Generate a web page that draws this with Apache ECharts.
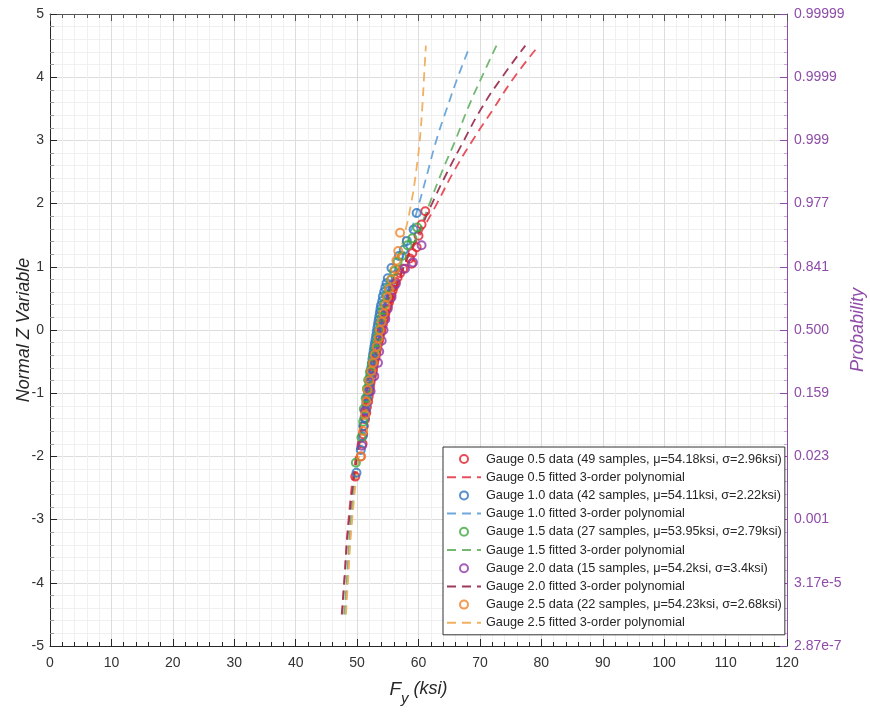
<!DOCTYPE html>
<html><head><meta charset="utf-8">
<script src="https://cdn.jsdelivr.net/npm/echarts@6/dist/echarts.min.js"></script>
<style>html,body{margin:0;padding:0;background:#fff}#c{width:870px;height:714px}</style>
</head><body><div id="c"></div>
<script>
// ---- tick labels ----
const probLabels = ['2.87e-7','3.17e-5','0.001','0.023','0.159','0.500','0.841','0.977','0.999','0.9999','0.99999'];

// ---- data (Fy ksi, Z) ----
const g05z = [-2.32,-2.0,-1.8,-1.65,-1.52,-1.41,-1.31,-1.22,-1.13,-1.05,-0.97,-0.9,-0.83,-0.76,-0.69,-0.63,-0.56,-0.5,-0.44,-0.38,-0.32,-0.26,-0.2,-0.15,-0.09,-0.03,0.03,0.09,0.15,0.2,0.26,0.32,0.38,0.44,0.5,0.56,0.63,0.69,0.76,0.83,0.9,0.97,1.05,1.13,1.22,1.31,1.49,1.67,1.88];
const g05x = [49.7,50.6,50.9,51.0,51.1,51.3,51.5,51.6,51.8,51.9,52.0,52.1,52.2,52.4,52.5,52.6,52.7,52.8,53.0,53.1,53.2,53.3,53.5,53.6,53.7,53.9,54.0,54.2,54.3,54.5,54.6,54.8,55.0,55.2,55.4,55.6,55.8,56.0,56.3,56.6,57.0,57.5,58.9,58.6,59.0,59.7,60.0,60.5,61.1];
const g10z = [-2.26,-1.9,-1.68,-1.52,-1.39,-1.27,-1.17,-1.07,-0.98,-0.9,-0.82,-0.74,-0.67,-0.6,-0.53,-0.46,-0.39,-0.33,-0.27,-0.21,-0.15,-0.09,-0.03,0.03,0.09,0.15,0.21,0.27,0.33,0.39,0.46,0.53,0.6,0.67,0.74,0.82,0.98,1.17,1.27,1.41,1.59,1.85];
const g10x = [49.9,50.6,50.9,51.0,51.2,51.4,51.5,51.6,51.8,51.9,52.0,52.1,52.2,52.3,52.4,52.5,52.6,52.7,52.8,52.9,53.0,53.1,53.2,53.3,53.4,53.5,53.6,53.7,53.8,53.9,54.1,54.2,54.4,54.6,54.8,55.0,55.6,56.8,57.6,58.1,59.2,59.7];
const g15z = [-2.1,-1.7,-1.45,-1.25,-1.08,-0.93,-0.79,-0.66,-0.54,-0.42,-0.31,-0.2,-0.1,0,0.1,0.2,0.31,0.42,0.54,0.66,0.79,0.93,1.08,1.17,1.34,1.45,1.62];
const g15x = [49.8,50.7,51.0,51.1,51.4,51.6,51.8,52.1,52.4,52.7,53.0,53.2,53.4,53.6,53.8,54.0,54.2,54.5,54.8,55.1,55.5,56.0,56.6,57.3,58.2,59.0,59.8];
const g20z = [-1.83,-1.28,-0.97,-0.73,-0.52,-0.34,-0.17,0,0.17,0.34,0.52,0.73,0.97,1.07,1.34];
const g20x = [50.8,51.3,52.2,52.8,53.4,53.6,54.0,54.3,54.6,55.0,55.6,56.3,57.8,59.1,60.5];
const g25z = [-2.0,-1.6,-1.34,-1.13,-0.95,-0.8,-0.65,-0.52,-0.39,-0.26,-0.13,0,0.13,0.26,0.39,0.52,0.65,0.8,0.96,1.1,1.25,1.54];
const g25x = [50.6,51.0,51.3,51.5,51.7,52.0,52.3,52.6,52.9,53.2,53.5,53.7,54.0,54.3,54.6,54.9,55.2,55.6,56.2,56.4,56.7,57.0];

// ---- fitted curves (Z levels and Fy) ----
const fitZ = [-4.5,-4,-3,-2,-1,0,1,1.5,2,2.5,3,3.5,4,4.5];
const fit05x = [47.6,47.9,48.6,49.8,51.6,54.0,57.6,60.2,63.0,65.7,68.8,72.2,75.6,79.6];
const fit10x = [48.1,48.4,49.1,50.2,51.8,54.0,57.0,58.6,60.1,61.5,62.9,64.6,66.4,68.4];
const fit15x = [47.9,48.3,49.0,50.1,51.7,54.0,57.6,59.8,61.8,63.8,66.0,68.0,70.3,72.7];
const fit20x = [47.5,47.9,48.7,50.0,51.8,54.2,57.6,59.9,62.2,64.7,67.4,70.2,73.6,77.4];
const fit25x = [48.2,48.5,49.2,50.3,51.7,53.9,56.4,57.7,58.8,59.6,60.2,60.6,60.9,61.2];

const names = [
  'Gauge 0.5 data (49 samples, μ=54.18ksi, σ=2.96ksi)','Gauge 0.5 fitted 3-order polynomial',
  'Gauge 1.0 data (42 samples, μ=54.11ksi, σ=2.22ksi)','Gauge 1.0 fitted 3-order polynomial',
  'Gauge 1.5 data (27 samples, μ=53.95ksi, σ=2.79ksi)','Gauge 1.5 fitted 3-order polynomial',
  'Gauge 2.0 data (15 samples, μ=54.2ksi, σ=3.4ksi)','Gauge 2.0 fitted 3-order polynomial',
  'Gauge 2.5 data (22 samples, μ=54.23ksi, σ=2.68ksi)','Gauge 2.5 fitted 3-order polynomial'
];
const dataColors = ['#E0202C','#2E75C0','#3FA83F','#8E3AA6','#F0822A'];
const fitColors  = ['#E8505C','#6FA8DA','#74B874','#A03A5A','#F2B062'];

const zip = (xs, zs) => xs.map((v, i) => [v, zs[i]]);
const sets = [[g05x,g05z,fit05x],[g10x,g10z,fit10x],[g15x,g15z,fit15x],[g20x,g20z,fit20x],[g25x,g25z,fit25x]];
const series = [];
sets.forEach((s, k) => {
  series.push({
    name: names[2*k], type: 'scatter', data: zip(s[0], s[1]),
    symbol: 'circle', symbolSize: 8,
    itemStyle: {color: 'rgba(255,255,255,0)', borderColor: dataColors[k], borderWidth: 2},
    emphasis: {disabled: true}, z: 3
  });
  series.push({
    name: names[2*k+1], type: 'line', data: zip(s[2], fitZ),
    showSymbol: false, symbol: 'none', smooth: true,
    lineStyle: {color: fitColors[k], width: 1.8, type: [9, 6]},
    itemStyle: {color: fitColors[k]},
    emphasis: {disabled: true}, z: 2
  });
});

const font = 'Liberation Sans, Arial, sans-serif';
const dark = '#262626';
const purple = '#8E4CA8';

const legendData = names.map((n, i) => i % 2 === 1
  ? {name: n, itemStyle: {opacity: 0}}
  : {name: n});

const chart = echarts.init(document.getElementById('c'), null, {renderer: 'canvas'});
chart.setOption({
  animation: false,
  backgroundColor: '#fff',
  grid: {left: 50, right: 83, top: 14, bottom: 68, outerBoundsMode: 'none', containLabel: false},
  legend: {
    orient: 'vertical', left: 443, top: 447,
    padding: [5.5, 3, 5.5, 3],
    itemWidth: 34, itemHeight: 8, itemGap: 5.2,
    backgroundColor: '#fff', borderColor: '#333', borderWidth: 1,
    textStyle: {fontFamily: font, fontSize: 12.7, color: dark},
    data: legendData,
    selectedMode: false
  },
  xAxis: [{
    type: 'value', min: 0, max: 120, interval: 10, position: 'bottom',
    axisLine: {show: true, onZero: false, lineStyle: {color: dark, width: 1}},
    name: '{a|F}{b|y}{c| (ksi)}', nameLocation: 'middle', nameGap: 34, nameMoveOverlap: false,
    nameTextStyle: {color: dark, fontFamily: font, rich: {
      a: {fontSize: 19, fontStyle: 'italic', color: dark, fontFamily: font, verticalAlign: 'top', lineHeight: 26},
      b: {fontSize: 15, fontStyle: 'italic', color: dark, fontFamily: font, verticalAlign: 'bottom', lineHeight: 26},
      c: {fontSize: 18, fontStyle: 'italic', color: dark, fontFamily: font, verticalAlign: 'top', lineHeight: 26}
    }},
    axisTick: {show: true, inside: true, length: 7, lineStyle: {color: dark}},
    minorTick: {show: true, splitNumber: 5, length: 4, lineStyle: {color: dark}},
    axisLabel: {color: '#333', fontFamily: font, fontSize: 14, margin: 10},
    splitLine: {show: true, lineStyle: {color: '#DCDCDC', width: 1}},
    minorSplitLine: {show: true, lineStyle: {color: '#F0F0F0', width: 1}}
  }, {
    type: 'value', min: 0, max: 120, interval: 10, position: 'top',
    axisLine: {show: true, onZero: false, lineStyle: {color: '#555', width: 1}},
    axisTick: {show: true, inside: true, length: 7, lineStyle: {color: '#555'}},
    minorTick: {show: true, splitNumber: 5, length: 4, lineStyle: {color: '#555'}},
    axisLabel: {show: false}, splitLine: {show: false}
  }],
  yAxis: [{
    type: 'value', min: -5, max: 5, interval: 1, position: 'left',
    axisLine: {show: true, onZero: false, lineStyle: {color: dark, width: 1}},
    name: 'Normal Z Variable', nameLocation: 'middle', nameGap: 17, nameMoveOverlap: false,
    nameTextStyle: {color: dark, fontFamily: font, fontSize: 18, fontStyle: 'italic'},
    axisTick: {show: true, inside: true, length: 7, lineStyle: {color: dark}},
    minorTick: {show: true, splitNumber: 5, length: 4, lineStyle: {color: '#999'}},
    axisLabel: {color: '#333', fontFamily: font, fontSize: 14, margin: 6},
    splitLine: {show: true, lineStyle: {color: '#DCDCDC', width: 1}},
    minorSplitLine: {show: true, lineStyle: {color: '#F0F0F0', width: 1}}
  }, {
    type: 'value', min: -5, max: 5, interval: 1, position: 'right',
    axisLine: {show: true, onZero: false, lineStyle: {color: purple, width: 1}},
    name: 'Probability', nameLocation: 'middle', nameGap: 62, nameMoveOverlap: false,
    nameTextStyle: {color: purple, fontFamily: font, fontSize: 18, fontStyle: 'italic'},
    axisTick: {show: true, inside: true, length: 7, lineStyle: {color: purple}},
    minorTick: {show: true, splitNumber: 5, length: 3, lineStyle: {color: '#C8A8D4'}},
    axisLabel: {color: purple, fontFamily: font, fontSize: 14, margin: 7,
      formatter: (v) => probLabels[Math.round(v + 5)]},
    splitLine: {show: false}
  }],
  series: series
});
</script></body></html>
